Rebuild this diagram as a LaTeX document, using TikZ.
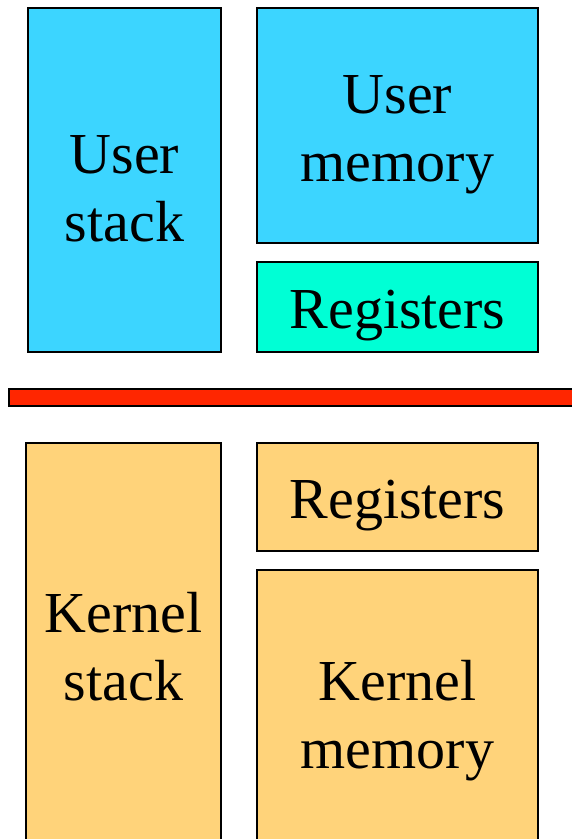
\documentclass[tikz,border=0pt]{standalone}
\usepackage{fontspec}
\setmainfont{Liberation Serif}
\definecolor{ublue}{HTML}{3CD5FF}
\definecolor{ugreen}{HTML}{00FFD5}
\definecolor{korange}{HTML}{FFD37A}
\definecolor{kred}{HTML}{FF2600}
\begin{document}
\begin{tikzpicture}[x=1pt,y=-1pt,
  blk/.style={draw=black,line width=1.3pt,inner sep=0pt},
  txt/.style={inner sep=0pt,align=center,font=\fontsize{58}{68}\selectfont,yshift=-9pt},
  ]
\useasboundingbox (0,0) rectangle (572,839);
\clip (0,0) rectangle (572,839);
\node[blk,fill=ublue,minimum width=193pt,minimum height=344pt] (ustack) at (124.5,180) {};
\node[blk,fill=ublue,minimum width=281pt,minimum height=235pt] (umem) at (397.5,125.5) {};
\node[blk,fill=ugreen,minimum width=281pt,minimum height=90pt] (ureg) at (397.5,307) {};
\node[blk,fill=kred,minimum width=570pt,minimum height=17pt] (bar) at (294,397.5) {};
\node[blk,fill=korange,minimum width=195pt,minimum height=415pt] (kstack) at (123.5,650.5) {};
\node[blk,fill=korange,minimum width=281pt,minimum height=108pt] (kreg) at (397.5,497) {};
\node[blk,fill=korange,minimum width=281pt,minimum height=284pt] (kmem) at (397.5,712) {};
\node[txt] (ustackt) at (ustack.center) {User\\stack};
\node[txt] (umemt) at (umem.center) {User\\memory};
\node[txt] (uregt) at (ureg.center) {Registers};
\node[txt,yshift=13pt] (kstackt) at (kstack.center) {Kernel\\stack};
\node[txt] (kregt) at (kreg.center) {Registers};
\node[txt] (kmemt) at (kmem.center) {Kernel\\memory};
\end{tikzpicture}
\end{document}
